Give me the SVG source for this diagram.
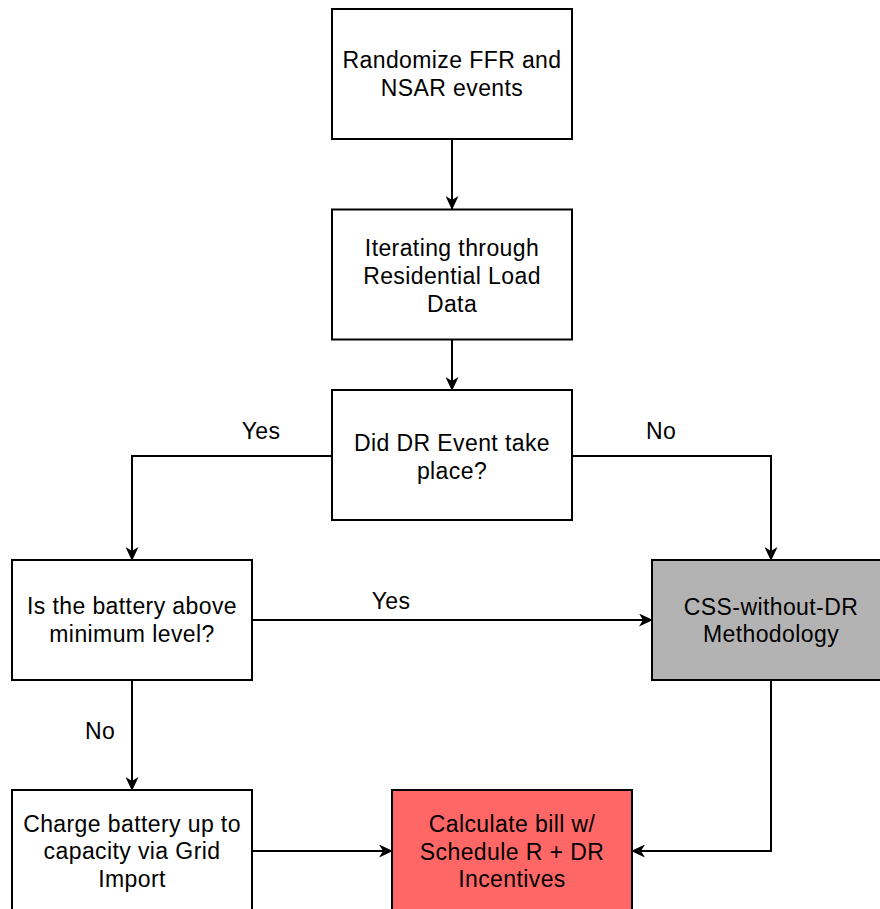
<svg xmlns="http://www.w3.org/2000/svg" width="880" height="909" viewBox="0 0 880 909">
<style>
  .box{fill:#ffffff;stroke:#000000;stroke-width:2}
  .gray{fill:#b3b3b3}
  .red{fill:#ff6666}
  .t{font-family:"Liberation Sans",Helvetica,Arial,sans-serif;font-size:23px;letter-spacing:0.4px;fill:#000000;text-anchor:middle}
  .edge{fill:none;stroke:#000000;stroke-width:2;marker-end:url(#arr)}
</style>
<defs>
  <marker id="arr" viewBox="0 0 14 13" refX="13" refY="6.5" markerWidth="14" markerHeight="13" markerUnits="userSpaceOnUse" orient="auto">
    <path d="M0,0 L14,6.5 L0,13 L4,6.5 Z" fill="#000000"/>
  </marker>
</defs>
<rect width="880" height="909" fill="#ffffff"/>
<g id="connectors">
  <path class="edge" d="M452,139 L452,209"/>
  <path class="edge" d="M452,340 L452,390"/>
  <path class="edge" d="M332,456 L132,456 L132,560"/>
  <path class="edge" d="M572,456 L771,456 L771,560"/>
  <path class="edge" d="M252,620 L652,620"/>
  <path class="edge" d="M132,680 L132,790"/>
  <path class="edge" d="M252,851 L392,851"/>
  <path class="edge" d="M771,680 L771,851 L632,851"/>
  <text class="t" x="261" y="439">Yes</text>
  <text class="t" x="661" y="439">No</text>
  <text class="t" x="391" y="609">Yes</text>
  <text class="t" x="100" y="739">No</text>
</g>
<g id="node1">
  <rect class="box" x="332" y="9" width="240" height="130"/>
  <text class="t" x="452" y="68">Randomize FFR and</text>
  <text class="t" x="452" y="96">NSAR events</text>
</g>
<g id="node2">
  <rect class="box" x="332" y="209.5" width="240" height="130"/>
  <text class="t" x="452" y="256">Iterating through</text>
  <text class="t" x="452" y="284">Residential Load</text>
  <text class="t" x="452" y="312">Data</text>
</g>
<g id="node3">
  <rect class="box" x="332" y="390" width="240" height="130"/>
  <text class="t" x="452" y="451">Did DR Event take</text>
  <text class="t" x="452" y="479">place?</text>
</g>
<g id="node4">
  <rect class="box" x="12" y="560" width="240" height="120"/>
  <text class="t" x="132" y="614">Is the battery above</text>
  <text class="t" x="132" y="642">minimum level?</text>
</g>
<g id="node5">
  <rect class="box gray" x="652" y="560" width="240" height="120"/>
  <text class="t" x="771" y="615">CSS-without-DR</text>
  <text class="t" x="771" y="642">Methodology</text>
</g>
<g id="node6">
  <rect class="box" x="12" y="790" width="240" height="130"/>
  <text class="t" x="132" y="832">Charge battery up to</text>
  <text class="t" x="132" y="859">capacity via Grid</text>
  <text class="t" x="132" y="887">Import</text>
</g>
<g id="node7">
  <rect class="box red" x="392" y="790" width="240" height="130"/>
  <text class="t" x="512" y="832">Calculate bill w/</text>
  <text class="t" x="512" y="860">Schedule R + DR</text>
  <text class="t" x="512" y="887">Incentives</text>
</g>
</svg>
